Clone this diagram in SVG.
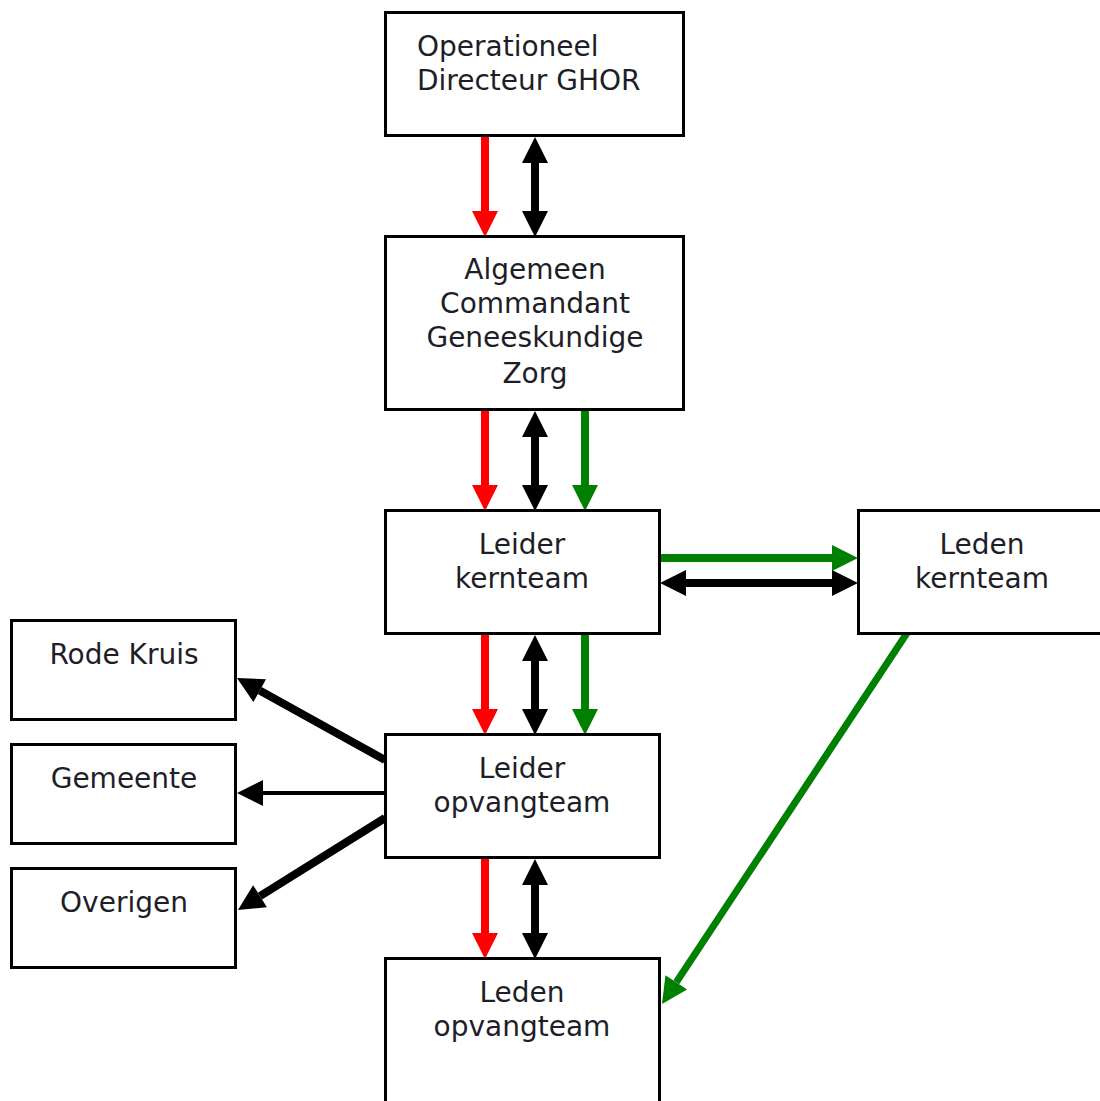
<svg xmlns="http://www.w3.org/2000/svg" width="1100" height="1101" viewBox="0 0 1100 1101">
<style>
  .box { fill: #ffffff; stroke: #000000; stroke-width: 3; }
  .lbl { font-family: "DejaVu Sans", Verdana, sans-serif; font-size: 28px; fill: #1e1e28; text-anchor: middle; }
  .lft { text-anchor: start; }
  .red { stroke: #ff0000; stroke-width: 8; fill: none; marker-end: url(#hr); }
  .blk { stroke: #000000; stroke-width: 8; fill: none; marker-start: url(#hb); marker-end: url(#hb); }
  .blk1 { stroke: #000000; stroke-width: 8; fill: none; marker-end: url(#hb); }
  .grn { stroke: #008000; stroke-width: 8; fill: none; marker-end: url(#hg); }
</style>
<defs>
  <marker id="hr" markerUnits="userSpaceOnUse" viewBox="0 0 26 26" refX="0" refY="13" markerWidth="26" markerHeight="26" orient="auto-start-reverse" overflow="visible"><path d="M0,0 L26,13 L0,26 Z" fill="#ff0000"/></marker>
  <marker id="hb" markerUnits="userSpaceOnUse" viewBox="0 0 26 26" refX="0" refY="13" markerWidth="26" markerHeight="26" orient="auto-start-reverse" overflow="visible"><path d="M0,0 L26,13 L0,26 Z" fill="#000000"/></marker>
  <marker id="hg" markerUnits="userSpaceOnUse" viewBox="0 0 26 26" refX="0" refY="13" markerWidth="26" markerHeight="26" orient="auto-start-reverse" overflow="visible"><path d="M0,0 L26,13 L0,26 Z" fill="#008000"/></marker>
</defs>
<rect width="1100" height="1101" fill="#ffffff"/>

<g id="connectors">
  <line class="red" x1="485" y1="137" x2="485" y2="211"/>
  <line class="blk" x1="535" y1="163" x2="535" y2="211"/>

  <line class="red" x1="485" y1="410" x2="485" y2="485"/>
  <line class="blk" x1="535" y1="437" x2="535" y2="485"/>
  <line class="grn" x1="585" y1="410" x2="585" y2="485"/>

  <line class="red" x1="485" y1="634" x2="485" y2="709"/>
  <line class="blk" x1="535" y1="661" x2="535" y2="709"/>
  <line class="grn" x1="585" y1="634" x2="585" y2="709"/>

  <line class="red" x1="485" y1="858" x2="485" y2="933"/>
  <line class="blk" x1="535" y1="885" x2="535" y2="933"/>

  <line class="grn" x1="660" y1="558" x2="832" y2="558"/>
  <line class="blk" x1="686" y1="583" x2="832" y2="583"/>

  <line class="blk1" x1="385" y1="760" x2="259.7" y2="690.6"/>
  <line class="blk1" x1="385" y1="793" x2="263" y2="793" style="stroke-width:4"/>
  <line class="blk1" x1="385" y1="818" x2="260" y2="896.2"/>

  <line class="grn" x1="907" y1="633" x2="676.3" y2="982.3" style="stroke-width:7"/>
</g>

<g id="n1">
  <rect class="box" x="385.5" y="12.5" width="298" height="123"/>
  <text class="lbl lft" x="417" y="56">Operationeel</text>
  <text class="lbl lft" x="417" y="90">Directeur GHOR</text>
</g>
<g id="n2">
  <rect class="box" x="385.5" y="236.5" width="298" height="173"/>
  <text class="lbl" x="535" y="279">Algemeen</text>
  <text class="lbl" x="535" y="313">Commandant</text>
  <text class="lbl" x="535" y="347">Geneeskundige</text>
  <text class="lbl" x="535" y="383">Zorg</text>
</g>
<g id="n3">
  <rect class="box" x="385.5" y="510.5" width="274" height="123"/>
  <text class="lbl" x="522" y="554">Leider</text>
  <text class="lbl" x="522" y="588">kernteam</text>
</g>
<g id="n4">
  <rect class="box" x="858.5" y="510.5" width="250" height="123"/>
  <text class="lbl" x="982" y="554">Leden</text>
  <text class="lbl" x="982" y="588">kernteam</text>
</g>
<g id="n5">
  <rect class="box" x="385.5" y="734.5" width="274" height="123"/>
  <text class="lbl" x="522" y="778">Leider</text>
  <text class="lbl" x="522" y="812">opvangteam</text>
</g>
<g id="n6">
  <rect class="box" x="385.5" y="958.5" width="274" height="160"/>
  <text class="lbl" x="522" y="1002">Leden</text>
  <text class="lbl" x="522" y="1036">opvangteam</text>
</g>
<g id="n7">
  <rect class="box" x="11.5" y="620.5" width="224" height="99"/>
  <text class="lbl" x="124" y="664">Rode Kruis</text>
</g>
<g id="n8">
  <rect class="box" x="11.5" y="744.5" width="224" height="99"/>
  <text class="lbl" x="124" y="788">Gemeente</text>
</g>
<g id="n9">
  <rect class="box" x="11.5" y="868.5" width="224" height="99"/>
  <text class="lbl" x="124" y="912">Overigen</text>
</g>
</svg>
